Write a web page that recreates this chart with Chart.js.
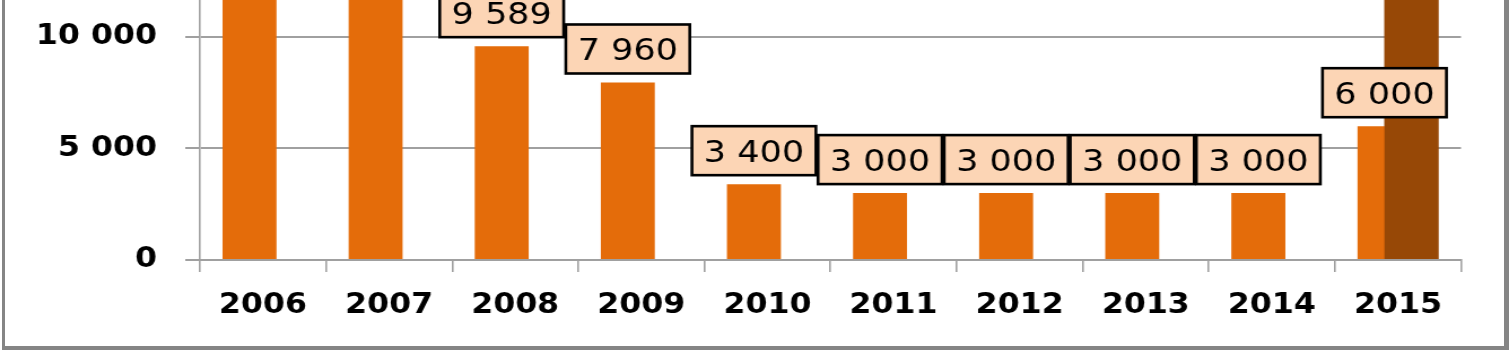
<!DOCTYPE html>
<html>
<head>
<meta charset="utf-8">
<script src="https://cdn.jsdelivr.net/npm/chart.js@4/dist/chart.umd.min.js"></script>
<style>
html,body{margin:0;padding:0;background:#fff;overflow:hidden;}
#stage{position:relative;width:1509px;height:351px;overflow:hidden;background:#fff;}
#wrap{position:absolute;left:0;top:0;width:1336px;height:351px;transform:scaleX(1.12949);transform-origin:0 0;}
#frame{position:absolute;left:2px;top:-20px;width:1507px;height:370px;box-sizing:border-box;border-left:3px solid #858585;border-right:5px solid #858585;border-bottom:4px solid #858585;pointer-events:none;}
</style>
</head>
<body>
<div id="stage">
  <div id="wrap"><canvas id="c"></canvas></div>
  <div id="frame"></div>
</div>
<script>
// ---- data ----
const years = ['2006','2007','2008','2009','2010','2011','2012','2013','2014','2015'];
const mainValues = [13000, 13000, 9589, 7960, 3400, 3000, 3000, 3000, 3000, 6000];
const extraValues = [null, null, null, null, null, null, null, null, null, 15000];
const yTicks = [0, 5000, 10000];
const yMax = 11659;

function fmt(v){ return String(v).replace(/\B(?=(\d{3})+(?!\d))/g, ' '); }

const tickFont = {family:'"DejaVu Sans", Verdana, sans-serif', weight:'bold', size:28};

const labelPlugin = {
  id:'boxLabels',
  afterDatasetsDraw(chart){
    const ctx = chart.ctx;
    const ca = chart.chartArea;
    // redraw the second series so it sits on top of the first (overlapping bars)
    ctx.save();
    ctx.beginPath();
    ctx.rect(ca.left, ca.top, ca.right - ca.left, ca.bottom - ca.top);
    ctx.clip();
    chart.getDatasetMeta(1).data.forEach(el => { if (!el.skip) el.draw(ctx); });
    ctx.restore();

    chart.data.datasets.forEach((ds, di) => {
      const meta = chart.getDatasetMeta(di);
      meta.data.forEach((bar, i) => {
        const v = ds.data[i];
        if (v == null) return;
        const txt = fmt(v);
        ctx.save();
        ctx.font = '31px "DejaVu Sans", Verdana, sans-serif';
        const tw = ctx.measureText(txt).width;
        const w = tw + 21, h = 49;
        const bottom = bar.y - 9;
        const top = bottom - h;
        const left = bar.x - w / 2;
        ctx.fillStyle = '#FCD5B5';
        ctx.fillRect(left, top, w, h);
        ctx.lineWidth = 2.6;
        ctx.strokeStyle = '#000';
        ctx.strokeRect(left, top, w, h);
        ctx.fillStyle = '#000';
        ctx.textAlign = 'center';
        ctx.textBaseline = 'alphabetic';
        ctx.fillText(txt, bar.x, top + h / 2 + 11.3);
        ctx.restore();
      });
    });
  }
};

new Chart(document.getElementById('c'), {
  type: 'bar',
  data: {
    labels: years,
    datasets: [
      {data: mainValues, backgroundColor:'#E46C0A', barPercentage:2, categoryPercentage:0.428},
      {data: extraValues, backgroundColor:'#974806', barPercentage:2, categoryPercentage:0.428}
    ]
  },
  options: {
    responsive:true, maintainAspectRatio:false, animation:false,
    layout:{padding:{left:0, right:42.5, top:0, bottom:0}},
    plugins:{legend:{display:false}, tooltip:{enabled:false}},
    scales:{
      x:{
        grid:{display:true, drawOnChartArea:false, drawTicks:true, tickLength:12, color:'#a0a0a0', lineWidth:1.6, offset:true},
        border:{display:true, color:'#a0a0a0', width:2},
        ticks:{font:tickFont, color:'#000', padding:17, maxRotation:0, autoSkip:false},
        afterFit(s){ s.height = 91; s.paddingLeft = 0; s.paddingRight = 0; }
      },
      y:{
        min:0, max:yMax,
        grid:{color:'#a0a0a0', lineWidth:2, tickLength:13, drawTicks:true},
        border:{display:true, color:'#a0a0a0', width:1.6},
        ticks:{font:tickFont, color:'#000', padding:25, callback:(v)=>fmt(v)},
        afterBuildTicks(s){ s.ticks = yTicks.map(v => ({value:v})); },
        afterFit(s){ s.width = 177; s.paddingTop = 0; s.paddingBottom = 0; }
      }
    }
  },
  plugins:[labelPlugin]
});
</script>
</body>
</html>
